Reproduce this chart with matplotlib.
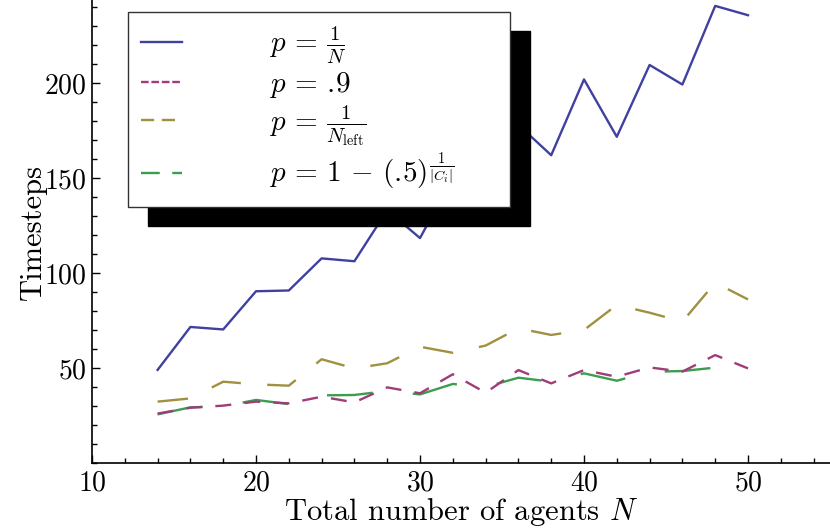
import numpy as np
import matplotlib
matplotlib.use("Agg")
import matplotlib.pyplot as plt
from matplotlib.lines import Line2D
from matplotlib.ticker import MultipleLocator, FixedLocator

plt.rcParams['font.family'] = 'cmr10'
plt.rcParams['mathtext.fontset'] = 'cm'
plt.rcParams['axes.unicode_minus'] = False
plt.rcParams['axes.formatter.use_mathtext'] = True
plt.rcParams['lines.scale_dashes'] = False

### data
n_agents = [14, 16, 18, 20, 22, 24, 26, 28, 30, 32, 34, 36, 38, 40, 42, 44, 46, 48, 50]
p_inv_n = [49, 71.6, 70.3, 90.4, 90.8, 107.7, 106.2, 133, 118.4, 150, 155,
           178, 162, 201.9, 171.7, 209.5, 199.2, 240.6, 235.7]
p_09 = [26, 29.1, 30.2, 32.3, 31.4, 34.9, 31.9, 39.8, 36.7, 46.7, 37,
        48.9, 41.9, 48.9, 45.4, 50.3, 48.1, 56.8, 49.8]
p_inv_left = [32.3, 34, 42.8, 41.4, 40.7, 54.6, 49.8, 52.5, 61.2, 58, 61.8,
              70.9, 67.4, 70, 83.2, 79.1, 74.4, 94.9, 86.1]
p_ci = [25.6, 29.3, 29.8, 33.2, 31, 35.6, 35.8, 37.9, 36.1, 41.6, 40,
        44.9, 42.8, 47.2, 43.3, 48, 48.4, 50.2, 49.5]

labels = [r'$p\,=\,\frac{1}{N}$', r'$p\,=\,.\!9$', r'$p\,=\,\frac{1}{N_{\rm left}}$',
          r'$p\,=\,1\,-\,(.\!5)^{\frac{1}{|C_i|}}$']
colors = ['#4040a0', '#a03c78', '#a09040', '#3c9c50']

fig = plt.figure(figsize=(8.3, 5.29), dpi=100)
ax = fig.add_axes([92 / 830, 66 / 529, 1 - 92 / 830, 1 - 66 / 529])

lw = 1.7
ax.plot(n_agents, p_inv_n, color=colors[0], lw=lw, zorder=3)
ax.plot(n_agents, p_inv_left, color=colors[2], lw=lw, dashes=(22, 19), zorder=3)
ax.plot(n_agents, p_ci, color=colors[3], lw=lw, dashes=(33, 29), zorder=3)
ax.plot(n_agents, p_09, color=colors[1], lw=lw, dashes=(11.5, 9.5), zorder=4)

ax.set_xlim(10, 55)
ax.set_ylim(0, 243.7)
ax.xaxis.set_major_locator(MultipleLocator(10))
ax.xaxis.set_minor_locator(MultipleLocator(2))
ax.yaxis.set_major_locator(FixedLocator([50, 100, 150, 200]))
ax.yaxis.set_minor_locator(MultipleLocator(10))
ax.tick_params(which='both', direction='in', labelsize=20, width=1)
ax.tick_params(which='major', length=6)
ax.tick_params(which='minor', length=3.5)
ax.tick_params(axis='y', pad=4)
ax.tick_params(axis='x', pad=5)
for s in ['top', 'right']:
    ax.spines[s].set_visible(False)
for s in ['left', 'bottom']:
    ax.spines[s].set_linewidth(1.2)

ax.set_xlabel(r'Total number of agents $N$', fontsize=22, labelpad=0)
ax.set_ylabel('Timesteps', fontsize=22, labelpad=-2)

### legend proxies (the legend uses shorter dashes)
handles = [
    Line2D([], [], color=colors[0], lw=lw),
    Line2D([], [], color=colors[1], lw=lw, dashes=(5.5, 2)),
    Line2D([], [], color=colors[2], lw=lw, dashes=(9.5, 5.5)),
    Line2D([], [], color=colors[3], lw=lw, dashes=(13.5, 9)),
]
leg = ax.legend(handles, labels, loc='upper left',
                bbox_to_anchor=(36 / 738, 260 / 463, 382 / 738, 191 / 463),
                mode='expand', borderaxespad=0, fontsize=21, handlelength=1.4,
                handletextpad=3.0, labelspacing=0.12, borderpad=0.45,
                fancybox=False, framealpha=1, edgecolor='#333333',
                shadow={'ox': 14.5, 'oy': -14, 'color': 'k', 'alpha': 1})
leg.get_frame().set_linewidth(1)

fig.savefig('out.png', dpi=100)
